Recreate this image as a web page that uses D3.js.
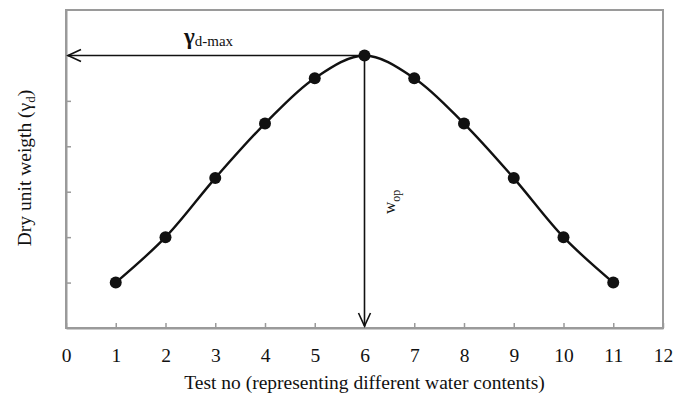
<!DOCTYPE html>
<html>
<head>
<meta charset="utf-8">
<script src="https://cdn.jsdelivr.net/npm/d3@7"></script>
<style>
  body { margin: 0; background: #fff; }
  text { font-family: "Liberation Serif", "Times New Roman", serif; }
</style>
</head>
<body>
<svg id="chart" width="692" height="395"></svg>
<script>
// test numbers and dry unit weight (relative units)
var tests = [1, 2, 3, 4, 5, 6, 7, 8, 9, 10, 11]
var dryWeight = [1, 2, 3.3, 4.5, 5.5, 6, 5.5, 4.5, 3.3, 2, 1]
var xTicks = [0, 1, 2, 3, 4, 5, 6, 7, 8, 9, 10, 11, 12]
var yTicks = [1, 2, 3, 4, 5, 6]
var peakIndex = 5

var svg = d3.select("#chart")
var margin = {left: 66, top: 10, right: 29, bottom: 67}
var w = 692 - margin.left - margin.right
var h = 395 - margin.top - margin.bottom

var x = d3.scaleLinear().domain([0, 12]).range([margin.left, margin.left + w])
var y = d3.scaleLinear().domain([0, 7]).range([margin.top + h, margin.top])

var axisColor = "#9a9a9a"

// plot border
svg.append("rect")
  .attr("x", margin.left)
  .attr("y", margin.top)
  .attr("width", w)
  .attr("height", h)
  .attr("fill", "none")
  .attr("stroke", axisColor)
  .attr("stroke-width", 2)

// x axis, ticks point inward
var xAxis = svg.append("g")
  .attr("transform", "translate(0," + (margin.top + h) + ")")
  .call(d3.axisBottom(x).tickValues(xTicks).tickSizeInner(-5).tickSizeOuter(0).tickPadding(20))
xAxis.select(".domain").attr("stroke", axisColor).attr("stroke-width", 2)
xAxis.selectAll(".tick line").attr("stroke", axisColor).attr("stroke-width", 1.5)
xAxis.selectAll(".tick text")
  .style("font-family", "Liberation Serif")
  .style("font-size", "19.5px")
  .attr("fill", "#111")

// y axis, ticks only
var yAxis = svg.append("g")
  .attr("transform", "translate(" + margin.left + ",0)")
  .call(d3.axisLeft(y).tickValues(yTicks).tickSizeInner(-5).tickSizeOuter(0).tickFormat(""))
yAxis.select(".domain").attr("stroke", axisColor).attr("stroke-width", 2)
yAxis.selectAll(".tick line").attr("stroke", axisColor).attr("stroke-width", 1.5)

// smooth curve
var line = d3.line()
  .x(function(d, i){ return x(tests[i]) })
  .y(function(d){ return y(d) })
  .curve(d3.curveCatmullRom.alpha(0.5))

svg.append("path")
  .datum(dryWeight)
  .attr("d", line)
  .attr("fill", "none")
  .attr("stroke", "#111")
  .attr("stroke-width", 2.4)

// arrows from the peak
var px = x(tests[peakIndex]), py = y(dryWeight[peakIndex])
var leftX = margin.left + 2, bottomY = margin.top + h - 2

svg.append("line")
  .attr("x1", px).attr("y1", py).attr("x2", leftX).attr("y2", py)
  .attr("stroke", "#111").attr("stroke-width", 1.6)
svg.append("path")
  .attr("d", "M" + (leftX + 13) + "," + (py - 6) + "L" + leftX + "," + py + "L" + (leftX + 13) + "," + (py + 6))
  .attr("fill", "none").attr("stroke", "#111").attr("stroke-width", 1.6)

svg.append("line")
  .attr("x1", px).attr("y1", py).attr("x2", px).attr("y2", bottomY)
  .attr("stroke", "#111").attr("stroke-width", 1.6)
svg.append("path")
  .attr("d", "M" + (px - 6) + "," + (bottomY - 13) + "L" + px + "," + bottomY + "L" + (px + 6) + "," + (bottomY - 13))
  .attr("fill", "none").attr("stroke", "#111").attr("stroke-width", 1.6)

// points
svg.selectAll("circle.pt")
  .data(dryWeight)
  .enter()
  .append("circle")
    .attr("class", "pt")
    .attr("cx", function(d, i){ return x(tests[i]) })
    .attr("cy", function(d){ return y(d) })
    .attr("r", 6)
    .attr("fill", "#111")

// gamma d-max label
var g1 = svg.append("text")
  .attr("x", 184)
  .attr("y", 44)
  .attr("fill", "#111")
g1.append("tspan").text("γ").style("font-size", "23px").style("font-weight", "bold")
g1.append("tspan").text("d-max").style("font-size", "15px").attr("dy", 2)

// w_op label
var g2 = svg.append("text")
  .attr("transform", "translate(395,214) rotate(-90)")
  .attr("fill", "#111")
g2.append("tspan").text("w").style("font-size", "17px")
g2.append("tspan").text("op").style("font-size", "12px").attr("dy", 5)

// axis titles
svg.append("text")
  .attr("x", x(6))
  .attr("y", 389)
  .attr("text-anchor", "middle")
  .style("font-size", "19.5px")
  .attr("fill", "#111")
  .text("Test no (representing different water contents)")

var yl = svg.append("text")
  .attr("transform", "translate(31,168) rotate(-90)")
  .attr("text-anchor", "middle")
  .style("font-size", "19.5px")
  .attr("fill", "#111")
yl.append("tspan").text("Dry unit weigth (γ")
yl.append("tspan").text("d").style("font-size", "13px").attr("dy", 4)
yl.append("tspan").text(")").attr("dy", -4)
</script>
</body>
</html>
